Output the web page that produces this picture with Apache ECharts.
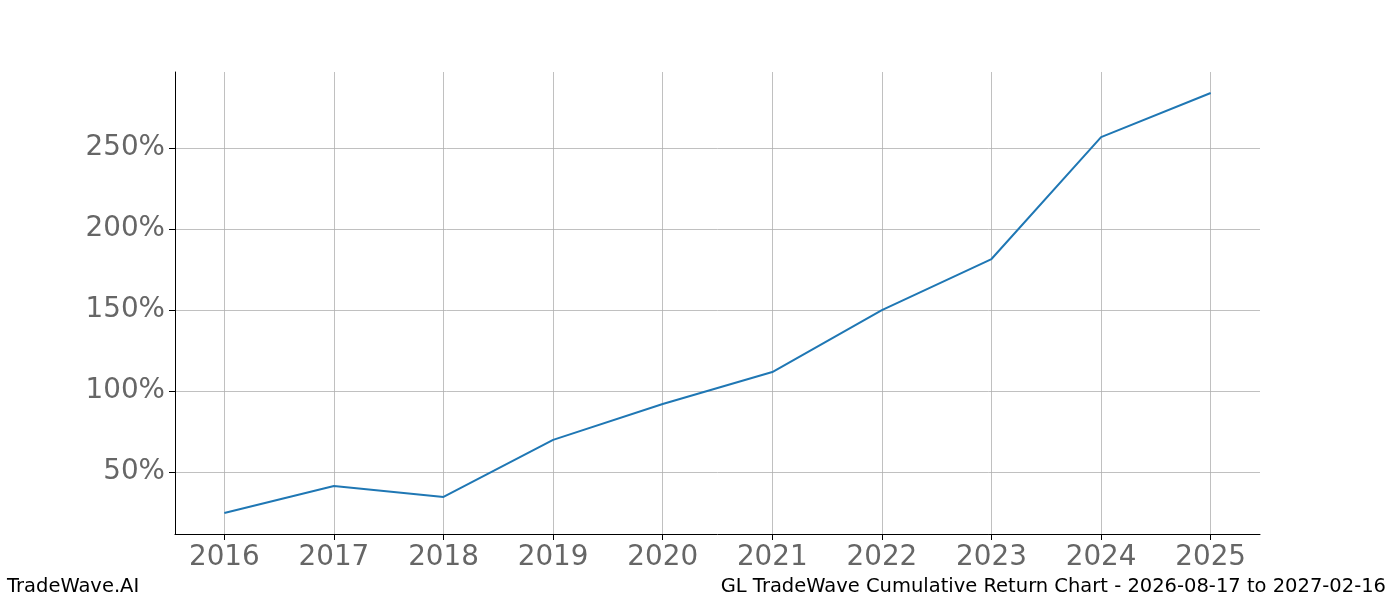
<!DOCTYPE html>
<html><head><meta charset="utf-8">
<script src="https://cdn.jsdelivr.net/npm/echarts@6/dist/echarts.min.js"></script>
<style>body{margin:0}#c{width:1400px;height:600px}</style></head>
<body><div id="c"></div>
<script>
const years = [2016,2017,2018,2019,2020,2021,2022,2023,2024,2025];
const returns = [24.7,41.4,34.6,69.8,92,111.7,150,181.5,256.8,284];
const yTicks = [50,100,150,200,250];
const chart = echarts.init(document.getElementById('c'));
chart.setOption({
  animation:false,
  grid:{left:175,right:140,top:72,bottom:66},
  xAxis:{type:'value',min:2015.55,max:2025.45,interval:1,
    axisLine:{show:true,onZero:false,lineStyle:{color:'#000'}},
    axisTick:{show:true,length:6,lineStyle:{color:'#000'},customValues:years},
    axisLabel:{color:'#666',fontSize:27.8,fontFamily:'DejaVu Sans',margin:10,customValues:years,formatter:v=>String(v)},
    splitLine:{show:true,lineStyle:{color:'#b0b0b0',width:0.8},customValues:years}},
  yAxis:{type:'value',min:11.7,max:297,
    axisLine:{show:true,lineStyle:{color:'#000'}},
    axisTick:{show:true,length:6,lineStyle:{color:'#000'},customValues:yTicks},
    axisLabel:{color:'#666',fontSize:27.8,fontFamily:'DejaVu Sans',margin:10,customValues:yTicks,formatter:v=>v+'%'},
    splitLine:{show:true,lineStyle:{color:'#b0b0b0',width:0.8},customValues:yTicks}},
  series:[{type:'line',data:years.map((y,i)=>[y,returns[i]]),symbol:'none',lineStyle:{color:'#1f77b4',width:2}}],
  graphic:[
    {type:'text',left:7,top:577,style:{text:'TradeWave.AI',font:'19.5px DejaVu Sans',fill:'#000'}},
    {type:'text',right:14,top:577,style:{text:'GL TradeWave Cumulative Return Chart - 2026-08-17 to 2027-02-16',font:'19.5px DejaVu Sans',fill:'#000'}}
  ]
});
</script></body></html>
